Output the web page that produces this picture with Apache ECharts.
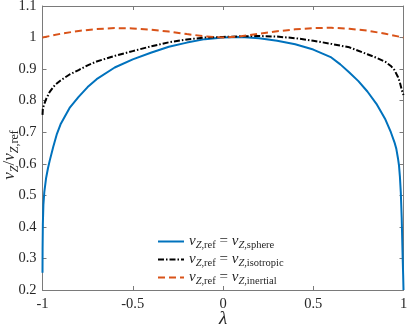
<!DOCTYPE html>
<html>
<head>
<meta charset="utf-8">
<script src="https://cdn.jsdelivr.net/npm/echarts@6/dist/echarts.min.js"></script>
<style>
html,body{margin:0;padding:0;background:#fff;}
#chart{width:407px;height:325px;}
</style>
</head>
<body>
<div id="chart"></div>
<script>
// ---- data ----
const xTicks = [-1, -0.5, 0, 0.5, 1];
const yTicks = [0.2, 0.3, 0.4, 0.5, 0.6, 0.7, 0.8, 0.9, 1, 1.1];

const lambdaSphere = [-1, -0.9995, -0.998, -0.995, -0.99, -0.98, -0.97, -0.96, -0.94, -0.92,
  -0.9, -0.85, -0.8, -0.75, -0.7, -0.6, -0.5, -0.4, -0.3, -0.2,
  -0.1, 0, 0.1, 0.2, 0.3, 0.4, 0.5, 0.6, 0.65, 0.7,
  0.75, 0.8, 0.85, 0.9, 0.93, 0.95, 0.96, 0.97, 0.975, 0.98,
  0.985, 0.99, 0.995, 0.998, 1];
const vSphere = [0.255, 0.33, 0.41, 0.47, 0.51, 0.555, 0.585, 0.61, 0.655, 0.695,
  0.725, 0.777, 0.812, 0.843, 0.868, 0.905, 0.931, 0.952, 0.971, 0.984,
  0.995, 1.0, 1.002, 0.998, 0.99, 0.979, 0.962, 0.937, 0.915, 0.889,
  0.862, 0.829, 0.79, 0.74, 0.70, 0.668, 0.648, 0.615, 0.595, 0.56,
  0.51, 0.43, 0.31, 0.25, 0.2];

const lambdaIso = [-1, -0.998, -0.99, -0.98, -0.96, -0.93, -0.9, -0.85, -0.8, -0.75,
  -0.7, -0.6, -0.5, -0.4, -0.3, -0.2, -0.1, 0, 0.1, 0.2,
  0.3, 0.4, 0.5, 0.6, 0.7, 0.8, 0.85, 0.9, 0.93, 0.95,
  0.97, 0.98, 0.99, 0.995, 1];
const vIso = [0.755, 0.775, 0.79, 0.805, 0.828, 0.85, 0.864, 0.883, 0.897, 0.912,
  0.924, 0.942, 0.957, 0.972, 0.985, 0.994, 1.0, 1.002, 1.004, 1.005,
  1.003, 0.998, 0.99, 0.98, 0.969, 0.947, 0.936, 0.923, 0.91, 0.897,
  0.874, 0.858, 0.835, 0.826, 0.818];

const lambdaInertial = [-1, -0.9, -0.8, -0.7, -0.6, -0.5, -0.4, -0.3, -0.2, -0.1,
  0, 0.1, 0.2, 0.3, 0.4, 0.5, 0.6, 0.7, 0.8, 0.9, 1];
const vInertial = [1.0, 1.012, 1.021, 1.027, 1.030, 1.029, 1.025, 1.019, 1.011, 1.004,
  1.0, 1.004, 1.012, 1.020, 1.026, 1.030, 1.031, 1.028, 1.022, 1.012, 1.0];

const seriesNames = ['sphere', 'isotropic', 'inertial'];
const colors = ['#0072BD', '#000000', '#D95319'];

// ---- chart ----
const FONT = '"Liberation Serif", "DejaVu Serif", serif';
const TXT = '#262626';
const AX = '#7a7a7a';
const pairs = (xs, ys) => xs.map((x, i) => [x, ys[i]]);

const richLegend = {
  v: {fontFamily: FONT, fontStyle: 'italic', fontSize: 15, color: TXT},
  z: {fontFamily: FONT, fontStyle: 'italic', fontSize: 10.5, color: TXT, padding: [8, 0, 0, 0]},
  s: {fontFamily: FONT, fontSize: 10.5, color: TXT, padding: [8, 0, 0, 0]},
  eq: {fontFamily: FONT, fontSize: 15, color: TXT}
};
const richYName = {
  v: {fontFamily: FONT, fontStyle: 'italic', fontSize: 17, color: TXT},
  z: {fontFamily: FONT, fontStyle: 'italic', fontSize: 12, color: TXT, padding: [9, 0, 0, 0]},
  s: {fontFamily: FONT, fontSize: 12, color: TXT, padding: [9, 0, 0, 0]},
  eq: {fontFamily: FONT, fontSize: 17, color: TXT}
};

const chart = echarts.init(document.getElementById('chart'), null, {renderer: 'canvas'});
const hiddenAxisCommon = {
  axisLabel: {show: false},
  axisLine: {show: true, onZero: false, lineStyle: {color: AX, width: 1}},
  axisTick: {show: true, inside: true, length: 4, lineStyle: {color: AX}},
  splitLine: {show: false}
};
chart.setOption({
  animation: false,
  backgroundColor: '#fff',
  grid: {left: 42.5, right: 3.5, top: 6, bottom: 35, containLabel: false, outerBoundsMode: 'none'},
  xAxis: [{
    type: 'value', min: xTicks[0], max: xTicks[xTicks.length - 1], interval: 0.5,
    position: 'bottom',
    name: 'λ', nameLocation: 'middle', nameGap: 19, nameMoveOverlap: false,
    nameTextStyle: {fontFamily: FONT, fontStyle: 'italic', fontSize: 19, color: TXT},
    axisLine: {show: true, onZero: false, lineStyle: {color: AX, width: 1}},
    axisTick: {show: true, inside: true, length: 4, lineStyle: {color: AX}},
    axisLabel: {fontFamily: FONT, fontSize: 14.5, color: TXT, margin: 7,
      formatter: v => String(Math.round(v * 10) / 10)},
    splitLine: {show: false}
  }, Object.assign({
    type: 'value', min: xTicks[0], max: xTicks[xTicks.length - 1], interval: 0.5,
    position: 'top'
  }, hiddenAxisCommon)],
  yAxis: [{
    type: 'value', min: yTicks[0], max: yTicks[yTicks.length - 1], interval: 0.1,
    position: 'left',
    name: '{v|v}{z|Z}{eq|/}{v|v}{z|Z}{s|,ref}', nameLocation: 'middle', nameGap: 22, nameRotate: 90,
    nameMoveOverlap: false,
    nameTextStyle: {rich: richYName, padding: [0, 14, 0, 0]},
    axisLine: {show: true, onZero: false, lineStyle: {color: AX, width: 1}},
    axisTick: {show: true, inside: true, length: 4, lineStyle: {color: AX}},
    axisLabel: {fontFamily: FONT, fontSize: 14.5, color: TXT, margin: 6,
      formatter: v => String(Math.round(v * 10) / 10)},
    splitLine: {show: false}
  }, Object.assign({
    type: 'value', min: yTicks[0], max: yTicks[yTicks.length - 1], interval: 0.1,
    position: 'right'
  }, hiddenAxisCommon)],
  legend: {
    orient: 'vertical', left: 152, top: 229,
    itemWidth: 26, itemHeight: 12, itemGap: 1,
    data: seriesNames,
    itemStyle: {opacity: 0},
    formatter: name => `{v|v}{z|Z}{s|,ref}{eq| = }{v|v}{z|Z}{s|,${name}}`,
    textStyle: {rich: richLegend}
  },
  series: [
    {name: seriesNames[0], type: 'line', data: pairs(lambdaSphere, vSphere), symbol: 'none',
      lineStyle: {color: colors[0], width: 2, type: 'solid'}, itemStyle: {color: colors[0], opacity: 0}, z: 3},
    {name: seriesNames[1], type: 'line', data: pairs(lambdaIso, vIso), symbol: 'none',
      lineStyle: {color: colors[1], width: 2, type: [6, 2, 1.5, 2]}, itemStyle: {color: colors[1], opacity: 0}, z: 4},
    {name: seriesNames[2], type: 'line', data: pairs(lambdaInertial, vInertial), symbol: 'none',
      lineStyle: {color: colors[2], width: 2, type: [7, 4]}, itemStyle: {color: colors[2], opacity: 0}, z: 5}
  ]
});
</script>
</body>
</html>
